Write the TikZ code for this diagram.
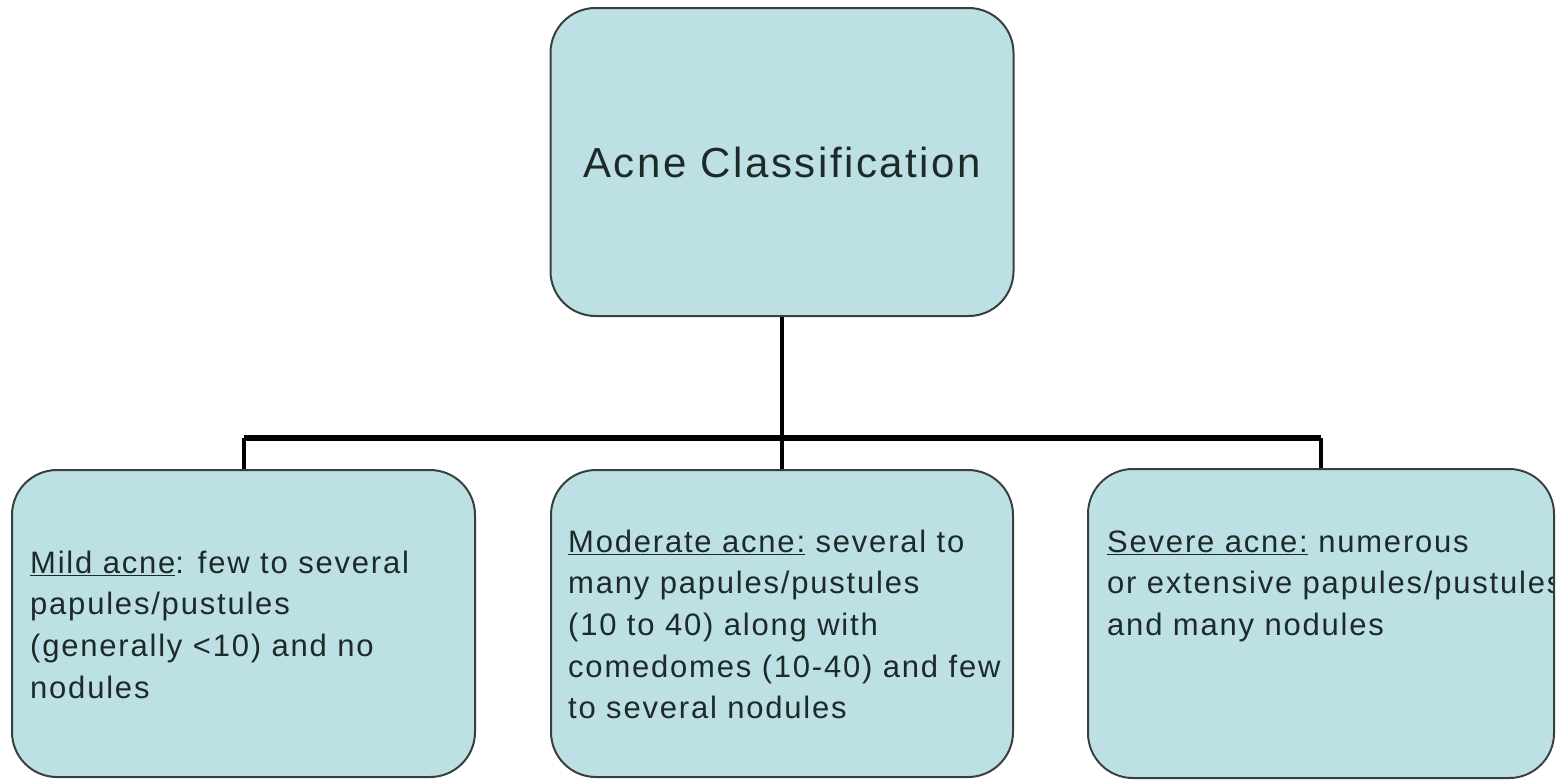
\documentclass[tikz,border=0pt]{standalone}
\usepackage{fontspec}
\setmainfont{Liberation Sans}
\newfontfamily\toplab[LetterSpace=6]{Liberation Sans}
\newfontfamily\boxlab[LetterSpace=5.8]{Liberation Sans}
\definecolor{boxfill}{HTML}{BCE0E4}
\definecolor{boxline}{HTML}{37403F}
\definecolor{txt}{HTML}{1E2A2A}
\tikzset{
  card/.style={draw=boxline, fill=boxfill, line width=2pt, rounded corners=45pt, inner sep=0pt},
  link/.style={draw=black, line width=4pt},
  bar/.style={draw=black, line width=6pt, line cap=square},
  toptext/.style={anchor=base, inner sep=0pt, text=txt, font=\toplab\fontsize{42}{50}\selectfont},
  bodytext/.style={anchor=base west, inner sep=0pt, text=txt}
}
\newcommand{\bodylines}[1]{\parbox[t]{480pt}{\raggedright\boxlab\fontsize{31}{41.7}\selectfont #1}}
\begin{document}
\begin{tikzpicture}[x=1pt,y=-1pt]
\useasboundingbox (0,0) rectangle (1557,780);
% boxes
\node[card, minimum width=463pt, minimum height=308pt] (top) at (782,162) {};
\node[card, minimum width=463pt, minimum height=307pt] (b1) at (243.5,623.5) {};
\node[card, minimum width=462pt, minimum height=307pt] (b2) at (782,623.5) {};
\node[card, draw=none, minimum width=464pt, minimum height=307pt] (b3) at (1321,623.5) {};
% connectors
\coordinate (hl) at (243.5,438);
\coordinate (hr) at (1321,438);
\draw[link] (top.south) -- (b2.north);
\draw[link] (hl) -- (b1.north);
\draw[link] (hr) -- (b3.north);
\draw[bar] (hl) -- (hr);
% texts
\node[toptext] (toptxt) at (782,177) {Acne Classification};
\node[bodytext] (t1) at (30,573) {\bodylines{\underline{Mild acne}: few to several\\papules/pustules\\(generally <10) and no\\nodules}};
\node[bodytext] (t2) at (568,552) {\bodylines{\underline{Moderate acne:} several to\\many papules/pustules\\(10 to 40) along with\\comedomes (10-40) and few\\to several nodules}};
\begin{scope}
\clip[rounded corners=45pt] (b3.south west) rectangle (b3.north east);
\node[bodytext] (t3) at (1107,552) {\bodylines{\underline{Severe acne:} numerous\\or extensive papules/pustules\\and many nodules}};
\end{scope}
\draw[boxline, line width=2pt, rounded corners=45pt] (b3.south west) rectangle (b3.north east);
\end{tikzpicture}
\end{document}
